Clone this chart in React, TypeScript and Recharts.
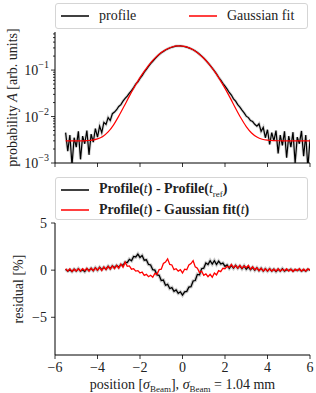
import React from 'react';
import { LineChart, Line, XAxis, YAxis } from 'recharts';

// measured profile, sampled every 0.1 sigma from -5.5 to 6.0
const POS_START = -5.5;
const POS_STEP = 0.1;

const PROFILE = [
  0.0045, 0.0018, 0.0040, 0.0009, 0.0035, 0.0022, 0.0048, 0.0012, 0.0038, 0.0026,
  0.0050, 0.0015, 0.0042, 0.0028, 0.0055, 0.0036, 0.0062, 0.0045, 0.0075, 0.0068,
  0.0095, 0.0082, 0.0115, 0.0125, 0.0140, 0.0165, 0.0180, 0.0215, 0.0245, 0.0275,
  0.0320, 0.0360, 0.0420, 0.0500, 0.0560, 0.0660, 0.0760, 0.0900, 0.1030, 0.1200,
  0.1380, 0.1550, 0.1750, 0.1950, 0.2150, 0.2350, 0.2520, 0.2700, 0.2850, 0.2990,
  0.3100, 0.3200, 0.3280, 0.3300, 0.3310, 0.3260, 0.3200, 0.3120, 0.3000, 0.2870,
  0.2730, 0.2560, 0.2380, 0.2190, 0.2000, 0.1810, 0.1620, 0.1430, 0.1260, 0.1100,
  0.0960, 0.0830, 0.0700, 0.0610, 0.0520, 0.0450, 0.0390, 0.0330, 0.0290, 0.0240,
  0.0215, 0.0180, 0.0160, 0.0138, 0.0120, 0.0102, 0.0095, 0.0082, 0.0078, 0.0068,
  0.0062, 0.0070, 0.0048, 0.0058, 0.0035, 0.0052, 0.0025, 0.0045, 0.0030, 0.0050,
  0.0016, 0.0040, 0.0024, 0.0048, 0.0013, 0.0038, 0.0022, 0.0046, 0.0010, 0.0036,
  0.0026, 0.0049, 0.0014, 0.0040, 0.0008, 0.0032,
];

// residuals in %, same grid as PROFILE
const RES_REF = [
  0.1, -0.1, 0.05, -0.15, 0.1, -0.1, 0.15, -0.1, 0.05, -0.15,
  0.15, -0.05, 0.2, -0.05, 0.25, 0.0, 0.3, 0.05, 0.3, 0.1,
  0.4, 0.15, 0.45, 0.25, 0.5, 0.3, 0.6, 0.5, 0.85, 0.8,
  1.15, 1.0, 1.45, 1.4, 1.7, 1.35, 1.55, 1.05, 1.1, 0.6,
  0.55, 0.05, 0.0, -0.5, -0.55, -1.1, -1.05, -1.6, -1.5, -1.95,
  -1.85, -2.25, -2.1, -2.45, -2.3, -2.65, -2.3, -2.25, -1.8, -1.75,
  -1.15, -1.1, -0.45, -0.5, 0.15, 0.2, 0.75, 0.6, 1.0, 0.65,
  1.0, 0.6, 0.95, 0.65, 0.75, 0.4, 0.55, 0.2, 0.5, 0.2,
  0.5, 0.2, 0.45, 0.15, 0.45, 0.1, 0.35, 0.05, 0.3, 0.0,
  0.25, -0.05, 0.2, -0.1, 0.15, -0.1, 0.15, -0.1, 0.1, -0.15,
  0.1, -0.1, 0.15, -0.1, 0.05, -0.05, 0.1, -0.1, 0.05, -0.05,
  0.1, -0.1, 0.05, -0.1, 0.1, 0.0,
];

const RES_FIT = [
  0.15, -0.1, 0.15, -0.15, 0.1, -0.1, 0.15, -0.1, 0.15, -0.05,
  0.2, -0.1, 0.2, -0.05, 0.25, 0.0, 0.3, -0.05, 0.35, 0.05,
  0.4, 0.1, 0.45, 0.15, 0.5, 0.2, 0.65, 0.3, 0.85, 0.4,
  0.45, 0.1, 0.15, -0.1, -0.05, -0.3, -0.2, -0.55, -0.45, -0.7,
  -0.55, -0.75, -0.35, -0.45, 0.05, 0.1, 0.7, 0.85, 1.2, 0.6,
  0.55, 0.05, 0.15, -0.1, 0.05, -0.3, 0.1, 0.05, 0.55, 0.7,
  1.0, 0.35, 0.2, -0.25, -0.1, -0.55, -0.4, -0.7, -0.45, -0.75,
  -0.3, -0.5, -0.05, -0.15, 0.2, 0.15, 0.4, 0.3, 0.6, 0.25,
  0.5, 0.2, 0.5, 0.2, 0.45, 0.25, 0.5, 0.1, 0.35, 0.05,
  0.25, -0.05, 0.2, -0.1, 0.15, -0.1, 0.15, -0.1, 0.1, -0.1,
  0.15, -0.1, 0.1, -0.05, 0.15, -0.1, 0.1, -0.15, 0.1, -0.05,
  0.15, -0.1, 0.1, -0.1, 0.15, 0.0,
];

// Gaussian fit curve
const FIT_POS = [
  -5.5, -5.25, -5.0, -4.75, -4.5, -4.25, -4.0, -3.75, -3.5, -3.25, -3.0, -2.75,
  -2.5, -2.25, -2.0, -1.75, -1.5, -1.25, -1.0, -0.75, -0.5, -0.25, 0, 0.25,
  0.5, 0.75, 1.0, 1.25, 1.5, 1.75, 2.0, 2.25, 2.5, 2.75, 3.0, 3.25,
  3.5, 3.75, 4.0, 4.25, 4.5, 4.75, 5.0, 5.25, 5.5, 5.75, 6.0,
];
const FIT = [
  0.0030, 0.0030, 0.0030, 0.0030, 0.00304, 0.00312, 0.00331, 0.00373, 0.00466, 0.00656, 0.0102, 0.0166,
  0.0275, 0.0442, 0.069, 0.101, 0.143, 0.190, 0.238, 0.281, 0.314, 0.331, 0.329, 0.309,
  0.273, 0.228, 0.180, 0.134, 0.0945, 0.0632, 0.0403, 0.0249, 0.0150, 0.00928, 0.00607, 0.00442,
  0.00362, 0.00325, 0.00310, 0.00304, 0.00301, 0.0030, 0.0030, 0.0030, 0.0030, 0.0030, 0.0030,
];

const X_TICKS = [-6, -4, -2, 0, 2, 4, 6];
const LOG_MAJOR = [0.001, 0.01, 0.1];
const LOG_MAJOR_LABELS = ['\u22123', '\u22122', '\u22121'];
const LOG_MINOR = [
  0.002, 0.003, 0.004, 0.005, 0.006, 0.007, 0.008, 0.009,
  0.02, 0.03, 0.04, 0.05, 0.06, 0.07, 0.08, 0.09,
  0.2, 0.3, 0.4, 0.5, 0.6,
];
const RES_TICKS = [-5, 0, 5];

const profileRows = PROFILE.map((p, i) => ({ x: POS_START + i * POS_STEP, p }));
const fitRows = FIT_POS.map((x, i) => ({ x, f: FIT[i] }));
const resRows = RES_REF.map((r, i) => ({ x: POS_START + i * POS_STEP, ref: r, fit: RES_FIT[i] }));

const FONT = '"Liberation Serif", "DejaVu Serif", serif';
const TXT = '#222';

const minus = (v: number) => String(v).replace('-', '\u2212');

function LogTick(props: any) {
  const { x, y, payload } = props;
  const idx = LOG_MAJOR.findIndex(m => Math.abs(m - payload.value) < 1e-9);
  const major = idx >= 0;
  return (
    <g>
      <line x1={x} x2={x - (major ? 4 : 2)} y1={y} y2={y} stroke="#000" strokeWidth={0.8} />
      {major && (
        <text x={x - 6} y={y + 5} textAnchor="end" fontFamily={FONT} fontSize={14} fill={TXT}>
          10<tspan dy={-7} fontSize={10}>{LOG_MAJOR_LABELS[idx]}</tspan>
        </text>
      )}
    </g>
  );
}

const emptyTick = () => <g />;

function YTitle({ viewBox, x, children }: any) {
  const cy = viewBox ? viewBox.y + viewBox.height / 2 : 0;
  return (
    <text
      transform={`translate(${x}, ${cy}) rotate(-90)`}
      textAnchor="middle"
      dominantBaseline="central"
      fontFamily={FONT}
      fontSize={14}
      fill={TXT}
    >
      {children}
    </text>
  );
}

function LegendLine({ color }: { color: string }) {
  return (
    <svg width={28} height={10} style={{ marginRight: 10, flex: 'none' }}>
      <line x1={0} x2={28} y1={5} y2={5} stroke={color} strokeWidth={1.5} />
    </svg>
  );
}

const legendBox: React.CSSProperties = {
  position: 'absolute',
  left: 55,
  width: 253,
  border: '1px solid #d5d5d5',
  borderRadius: 3,
  background: 'rgba(255,255,255,0.85)',
  fontFamily: FONT,
  fontSize: 14,
  color: TXT,
  boxSizing: 'border-box',
};

export default function App() {
  return (
    <div style={{ position: 'absolute', left: 0, top: 0, width: 316, height: 393, background: '#fff' }}>
      <div style={{ position: 'absolute', left: 0, top: 0 }}>
        <LineChart width={316} height={170} margin={{ top: 32, right: 6, left: 0, bottom: 0 }}>
          <XAxis
            dataKey="x"
            type="number"
            domain={[-6, 6]}
            ticks={X_TICKS}
            allowDataOverflow
            height={7}
            tick={emptyTick}
            tickSize={4}
            axisLine={{ stroke: '#000' }}
            tickLine={{ stroke: '#000', strokeWidth: 0.8 }}
          />
          <XAxis xAxisId="top" orientation="top" type="number" domain={[-6, 6]} height={0}
            tick={false} tickLine={false} axisLine={{ stroke: '#000' }} />
          <YAxis
            scale="log"
            type="number"
            domain={[0.001, 0.66]}
            allowDataOverflow
            ticks={[...LOG_MAJOR, ...LOG_MINOR]}
            interval={0}
            width={55}
            tickSize={0}
            tickMargin={0}
            tickLine={false}
            tick={LogTick}
            axisLine={{ stroke: '#000' }}
            label={{
              content: (p: any) => (
                <YTitle viewBox={p.viewBox} x={12}>
                  probability <tspan fontStyle="italic">A</tspan> [arb. units]
                </YTitle>
              ),
            }}
          />
          <YAxis yAxisId="right" orientation="right" width={0} tick={false} tickLine={false} axisLine={{ stroke: '#000' }} />
          <Line data={profileRows} dataKey="p" type="linear" stroke="#000" strokeOpacity={0.16}
            strokeWidth={3} dot={false} isAnimationActive={false} />
          <Line data={profileRows} dataKey="p" type="linear" stroke="#000" strokeWidth={1.2}
            dot={false} isAnimationActive={false} />
          <Line data={fitRows} dataKey="f" type="monotone" stroke="#ff0000" strokeWidth={1.2}
            dot={false} isAnimationActive={false} />
        </LineChart>
      </div>

      <div style={{ position: 'absolute', left: 0, top: 170 }}>
        <LineChart width={316} height={223} data={resRows} margin={{ top: 53, right: 6, left: 0, bottom: 0 }}>
          <XAxis
            dataKey="x"
            type="number"
            domain={[-6, 6]}
            ticks={X_TICKS}
            allowDataOverflow
            height={38}
            tickSize={4}
            tickMargin={3}
            tickFormatter={minus}
            tick={{ fontFamily: FONT, fontSize: 14, fill: TXT }}
            axisLine={{ stroke: '#000' }}
            tickLine={{ stroke: '#000', strokeWidth: 0.8 }}
            label={{
              content: (p: any) => {
                const vb = p.viewBox || { x: 55, y: 185, width: 255, height: 38 };
                return (
                  <text x={vb.x + vb.width / 2} y={vb.y + vb.height - 4} textAnchor="middle"
                    fontFamily={FONT} fontSize={14} fill={TXT}>
                    position [<tspan fontStyle="italic">σ</tspan>
                    <tspan fontSize={9} dy={3}>Beam</tspan>
                    <tspan dy={-3}>], </tspan>
                    <tspan fontStyle="italic">σ</tspan>
                    <tspan fontSize={9} dy={3}>Beam</tspan>
                    <tspan dy={-3}> = 1.04 mm</tspan>
                  </text>
                );
              },
            }}
          />
          <XAxis xAxisId="top" orientation="top" type="number" domain={[-6, 6]} height={0}
            tick={false} tickLine={false} axisLine={{ stroke: '#000' }} />
          <YAxis
            type="number"
            domain={[-9, 5]}
            allowDataOverflow
            ticks={RES_TICKS}
            interval={0}
            width={55}
            tickSize={4}
            tickMargin={4}
            tickFormatter={minus}
            tick={{ fontFamily: FONT, fontSize: 14, fill: TXT }}
            axisLine={{ stroke: '#000' }}
            tickLine={{ stroke: '#000', strokeWidth: 0.8 }}
            label={{
              content: (p: any) => (
                <YTitle viewBox={p.viewBox} x={18}>residual [%]</YTitle>
              ),
            }}
          />
          <YAxis yAxisId="right" orientation="right" width={0} tick={false} tickLine={false} axisLine={{ stroke: '#000' }} />
          <Line dataKey="ref" type="linear" stroke="#000" strokeOpacity={0.2} strokeWidth={3.5}
            dot={false} isAnimationActive={false} />
          <Line dataKey="ref" type="linear" stroke="#000" strokeWidth={1.3} dot={false} isAnimationActive={false} />
          <Line dataKey="fit" type="linear" stroke="#ff0000" strokeWidth={1.3} dot={false} isAnimationActive={false} />
        </LineChart>
      </div>

      <div style={{ ...legendBox, top: 3, height: 26, display: 'flex', alignItems: 'center', paddingLeft: 5 }}>
        <LegendLine color="#000" />
        <span style={{ width: 90 }}>profile</span>
        <LegendLine color="#ff0000" />
        <span>Gaussian fit</span>
      </div>

      <div style={{ ...legendBox, top: 177, height: 43, paddingLeft: 5, paddingTop: 2 }}>
        <div style={{ display: 'flex', alignItems: 'center', height: 20, fontWeight: 'bold' }}>
          <LegendLine color="#000" />
          <span>
            Profile(<i style={{ fontWeight: 'normal' }}>t</i>) - Profile(<i style={{ fontWeight: 'normal' }}>t</i>
            <sub style={{ fontSize: 9, fontWeight: 'normal' }}>ref</sub>)
          </span>
        </div>
        <div style={{ display: 'flex', alignItems: 'center', height: 20, fontWeight: 'bold' }}>
          <LegendLine color="#ff0000" />
          <span>
            Profile(<i style={{ fontWeight: 'normal' }}>t</i>) - Gaussian fit(<i style={{ fontWeight: 'normal' }}>t</i>)
          </span>
        </div>
      </div>
    </div>
  );
}
